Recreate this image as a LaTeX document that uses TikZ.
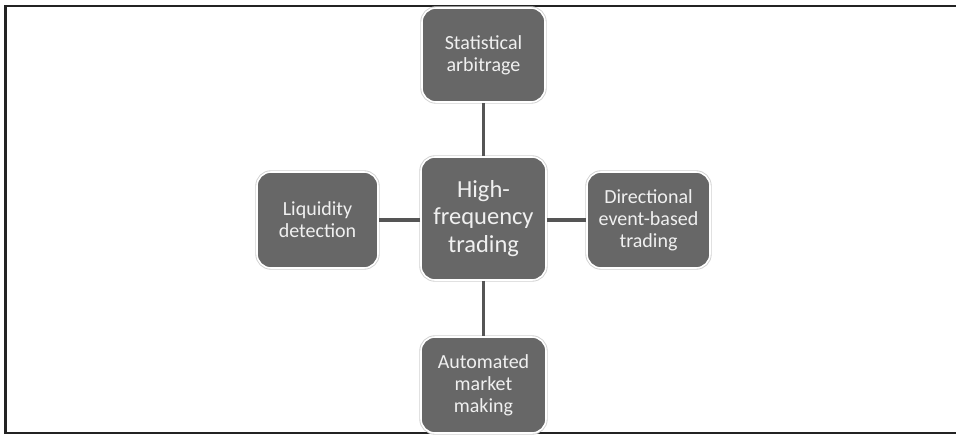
\documentclass[tikz,border=0pt]{standalone}
\usepackage{fontspec}
\setmainfont{Carlito}
\usepackage{tikz}
\usetikzlibrary{positioning}
\definecolor{boxgray}{RGB}{103, 103, 103}
\definecolor{linkgray}{RGB}{85, 85, 85}
\definecolor{framegray}{RGB}{35, 35, 35}
\definecolor{textwhite}{RGB}{240, 240, 240}

\tikzset{
  topic/.style={draw=white, line width=1.6pt, fill=boxgray, rounded corners=14pt,
    preaction={draw=black!18, line width=3.4pt},
    text=textwhite, align=center, inner sep=2pt,
    font=\fontsize{20}{22}\selectfont},
  hub/.style={topic, font=\fontsize{24.5}{27.5}\selectfont},
  link/.style={draw=linkgray, line width=3.2pt}
}

\begin{document}
\begin{tikzpicture}[x=1pt, y=-1pt]
  \useasboundingbox (0,0) rectangle (956,434);

  % frame
  \draw[framegray, line width=2.6pt] (960,6) -- (5.5,6) -- (5.5,433) -- (960,433);

  % centre and the four strategies
  \node[hub, minimum width=125pt, minimum height=123pt] (hft) at (483.5,218.5) {High-\\frequency\\trading};

  \node[topic, minimum width=123pt, minimum height=94pt] (stat) at (483.5,55) {Statistical\\arbitrage};
  \node[topic, minimum width=121pt, minimum height=96pt] (liq) at (317.5,220) {Liquidity\\detection};
  \node[topic, minimum width=123pt, minimum height=96pt] (dir) at (648.5,220) {Directional\\event-based\\trading};
  \node[topic, minimum width=125pt, minimum height=96pt] (amm) at (483.5,385) {Automated\\market\\making};

  % links
  \draw[link] (hft) -- (stat);
  \draw[link] (hft) -- (amm);
  \draw[link] (hft.west |- liq) -- (liq);
  \draw[link] (hft.east |- dir) -- (dir);
\end{tikzpicture}
\end{document}
